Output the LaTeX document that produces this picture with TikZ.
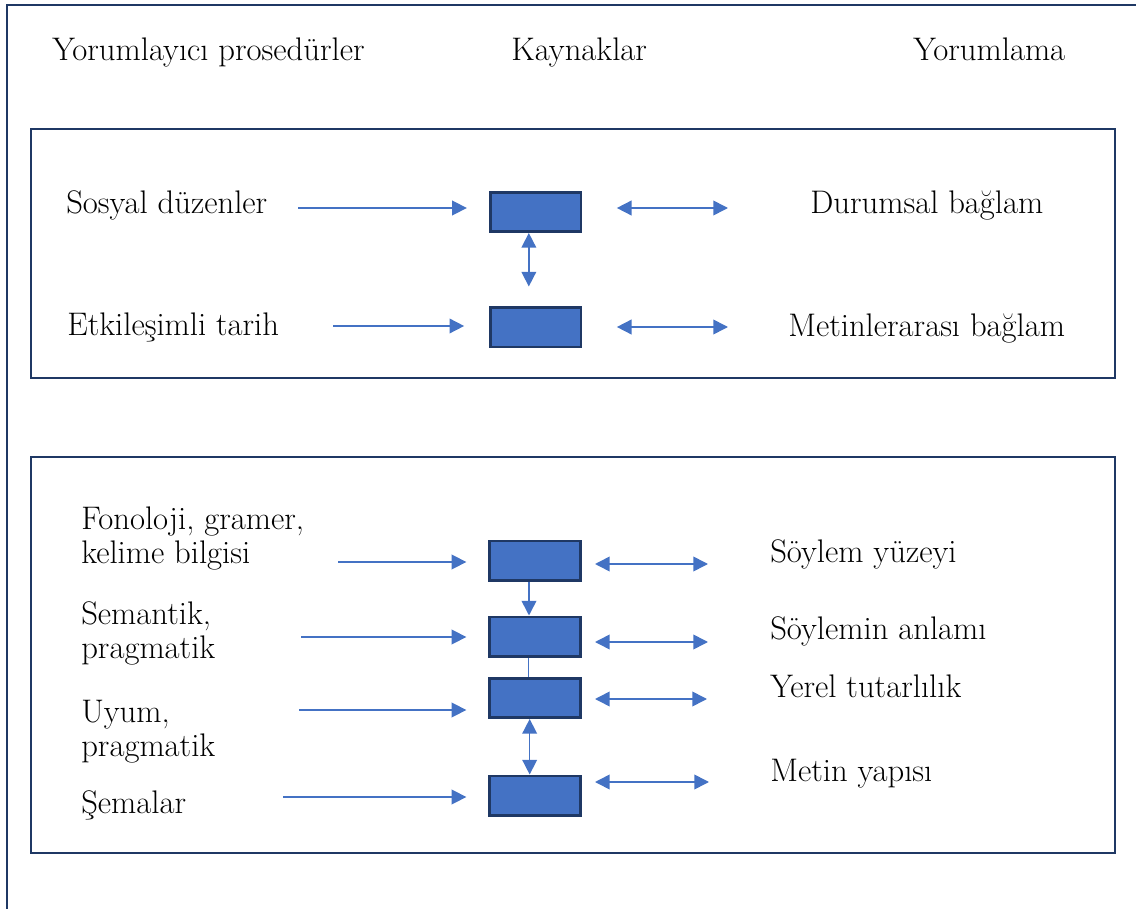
\documentclass[tikz,border=0pt]{standalone}
\usetikzlibrary{arrows.meta}
\definecolor{kutumavi}{HTML}{4472C4}
\definecolor{lacivert}{HTML}{1F3864}

\begin{document}
\begin{tikzpicture}[x=0.75pt,y=-0.75pt,
  yazi/.style={anchor=base west,inner sep=0pt,align=left,font=\fontsize{24.5}{25}\selectfont},
  kutu/.style={draw=lacivert,line width=2pt,fill=kutumavi,minimum width=68pt,minimum height=29.5pt,inner sep=0pt},
  cerceve/.style={draw=lacivert,line width=2pt},
  ok/.style={kutumavi,line width=1.2pt,-{Triangle[length=11pt,width=11pt]}},
  cift/.style={kutumavi,line width=1.2pt,{Triangle[length=11pt,width=11pt]}-{Triangle[length=11pt,width=11pt]}}]
  \useasboundingbox (0,0) rectangle (1136,909);
  % frames
  \draw[cerceve] (7,909) -- (7,5) -- (1136,5);
  \draw[cerceve] (31,129) rectangle (1115,378);
  \draw[cerceve] (31,457) rectangle (1115,853);
  % headings
  \node[yazi] (h1) at (52,61) {Yorumlayıcı prosedürler};
  \node[yazi] (h2) at (511,61) {Kaynaklar};
  \node[yazi] (h3) at (913,61) {Yorumlama};
  % upper panel
  \node[kutu] (b1) at (535.5,212) {};
  \node[kutu] (b2) at (535.5,327.5) {};
  \node[yazi] (s1) at (66,214) {Sosyal düzenler};
  \node[yazi] (s2) at (67,336) {Etkileşimli tarih};
  \node[yazi] (r1) at (810,214) {Durumsal bağlam};
  \node[yazi] (r2) at (788,337) {Metinlerarası bağlam};
  \coordinate (p1) at (298,208); \coordinate (q1) at (728,208);
  \coordinate (p2) at (333,326); \coordinate (q2) at (728,327);
  \draw[ok,shorten >=16.5pt] (p1) -- (p1 -| b1.west);
  \draw[ok,shorten >=18.5pt] (p2) -- (p2 -| b2.west);
  \draw[cift,shorten <=26pt] (q1 -| b1.east) -- (q1);
  \draw[cift,shorten <=26pt] (q2 -| b2.east) -- (q2);
  \draw[cift,shorten >=15pt] ([xshift=-5pt]b1.south) -- ([xshift=-5pt]b2.north);
  % lower panel
  \foreach \n/\by/\ay/\ax/\cy/\cx in {1/560.5/562/338/564/708, 2/636.5/637/301/642/708, 3/698/710/299/699/707, 4/795.5/797/283/782/709}{
    \node[kutu] (k\n) at (535,\by) {};
    \coordinate (a\n) at (\ax,\ay);
    \coordinate (c\n) at (\cx,\cy);
    \draw[ok,shorten >=16.5pt] (a\n) -- (a\n -| k\n.west);
    \draw[cift,shorten <=10pt] (c\n -| k\n.east) -- (c\n);
  }
  \node[yazi] (l1) at (81,563) {Fonoloji, gramer,\\kelime bilgisi};
  \node[yazi] (l2) at (81,658) {Semantik,\\pragmatik};
  \node[yazi] (l3) at (81,756) {Uyum,\\pragmatik};
  \node[yazi] (l4) at (81,813) {Şemalar};
  \node[yazi] (m1) at (770,562) {Söylem yüzeyi};
  \node[yazi] (m2) at (770,639) {Söylemin anlamı};
  \node[yazi] (m3) at (770,697) {Yerel tutarlılık};
  \node[yazi] (m4) at (770,781) {Metin yapısı};
  \draw[ok] ([xshift=-4.5pt]k1.south) -- ([xshift=-4.5pt]k2.north);
  \draw[kutumavi,line width=1.2pt] ([xshift=-5pt]k2.south) -- ([xshift=-5pt]k3.north);
  \draw[cift] ([xshift=-4pt]k3.south) -- ([xshift=-4pt]k4.north);
\end{tikzpicture}
\end{document}
